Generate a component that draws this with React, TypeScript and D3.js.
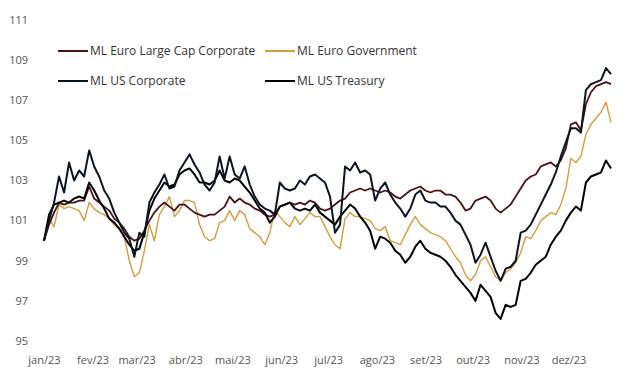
import React from "react";
import * as d3 from "d3";

const W = 622;
const H = 369;

const yTicks = [95, 97, 99, 101, 103, 105, 107, 109, 111];
const monthLabels = ["jan/23", "fev/23", "mar/23", "abr/23", "mai/23", "jun/23", "jul/23", "ago/23", "set/23", "out/23", "nov/23", "dez/23"];
const monthStarts = ["2023-01-01", "2023-02-01", "2023-03-01", "2023-04-01", "2023-05-01", "2023-06-01", "2023-07-01", "2023-08-01", "2023-09-01", "2023-10-01", "2023-11-01", "2023-12-01"];
const firstDate = "2023-01-02";
const lastDate = "2023-12-29";

const euroCorp = [100.0, 100.8, 101.4, 101.9, 101.8, 101.9, 101.9, 102.0, 102.0, 102.7, 102.1, 101.9, 101.7, 101.5, 101.1, 100.9, 100.6, 100.2, 100.0, 100.1, 100.5, 101.0, 101.4, 101.7, 101.9, 101.7, 101.5, 101.8, 101.8, 101.6, 101.4, 101.3, 101.2, 101.3, 101.3, 101.5, 101.7, 102.2, 101.9, 102.1, 101.9, 101.8, 101.6, 101.5, 101.3, 101.2, 101.3, 101.7, 101.8, 101.9, 101.8, 101.9, 101.8, 102.0, 101.9, 101.6, 101.5, 101.6, 101.8, 102.0, 102.1, 102.4, 102.5, 102.6, 102.5, 102.6, 102.5, 102.4, 102.5, 102.4, 102.2, 102.1, 102.3, 102.5, 102.6, 102.7, 102.5, 102.4, 102.5, 102.5, 102.3, 102.3, 102.2, 101.9, 101.5, 101.6, 102.0, 102.1, 102.2, 102.0, 101.6, 101.4, 101.6, 101.8, 102.2, 102.6, 103.0, 103.2, 103.3, 103.7, 103.8, 103.9, 103.7, 104.0, 104.6, 105.8, 105.9, 105.5, 106.8, 107.4, 107.7, 107.8, 107.9, 107.8];
const euroGov = [100.0, 101.1, 100.7, 101.8, 101.6, 101.7, 101.6, 101.5, 101.0, 101.9, 101.6, 101.4, 101.3, 101.1, 100.8, 100.6, 100.2, 99.0, 98.2, 98.4, 99.5, 100.8, 100.0, 101.3, 101.7, 102.2, 101.2, 101.5, 102.0, 102.0, 101.9, 100.8, 100.2, 100.0, 100.1, 100.9, 101.0, 101.5, 101.0, 101.5, 101.3, 100.6, 100.4, 100.2, 99.8, 100.4, 101.5, 101.2, 100.9, 100.7, 101.2, 100.8, 101.1, 101.4, 101.2, 101.2, 100.7, 100.2, 99.8, 99.6, 101.1, 101.4, 101.2, 101.2, 101.1, 101.0, 100.6, 100.5, 100.7, 100.0, 99.9, 99.8, 100.3, 100.8, 101.2, 100.8, 100.6, 100.4, 100.3, 100.2, 100.0, 99.6, 99.2, 98.9, 98.3, 98.0, 98.3, 99.0, 99.2, 98.7, 98.2, 98.0, 98.4, 98.6, 98.9, 99.4, 100.2, 100.1, 100.5, 101.0, 101.2, 101.4, 101.3, 101.8, 102.6, 104.1, 103.9, 104.2, 105.3, 105.8, 106.1, 106.4, 106.9, 105.9];
const usCorp = [100.0, 101.0, 101.9, 103.2, 102.4, 103.9, 103.0, 103.5, 103.2, 104.5, 103.7, 103.2, 102.5, 102.1, 101.4, 100.9, 100.4, 100.1, 99.2, 100.4, 100.2, 101.9, 102.4, 102.8, 103.3, 102.6, 102.7, 103.5, 103.9, 104.3, 103.8, 103.4, 102.8, 102.5, 102.9, 104.2, 103.1, 104.2, 103.3, 103.1, 103.7, 102.8, 102.2, 101.8, 101.6, 101.5, 101.3, 102.9, 102.6, 102.5, 102.6, 103.0, 102.8, 103.2, 103.3, 103.1, 102.9, 102.2, 100.4, 100.8, 103.7, 103.5, 103.9, 103.4, 103.5, 103.3, 102.0, 102.6, 102.9, 102.3, 101.9, 101.6, 101.2, 101.6, 102.3, 102.5, 102.0, 101.9, 101.9, 101.7, 101.7, 101.4, 101.0, 100.8, 100.3, 99.8, 98.9, 99.3, 99.9, 99.2, 98.5, 98.0, 98.6, 98.7, 99.0, 100.4, 100.5, 100.8, 101.3, 101.8, 102.3, 102.8, 103.4, 104.2, 104.9, 105.6, 105.6, 105.4, 107.5, 107.8, 107.9, 108.0, 108.6, 108.3];
const usTreasury = [100.0, 101.3, 101.8, 101.9, 102.0, 101.9, 102.1, 102.2, 102.1, 102.9, 102.5, 102.0, 101.6, 101.1, 100.9, 100.6, 100.2, 99.8, 99.5, 99.6, 100.4, 101.5, 102.1, 102.5, 102.9, 102.7, 102.8, 103.3, 103.5, 103.6, 103.3, 102.9, 102.9, 102.8, 103.0, 103.5, 103.0, 102.9, 103.1, 103.0, 102.7, 102.4, 102.0, 101.6, 101.4, 100.9, 101.2, 101.7, 101.8, 101.9, 101.6, 101.5, 101.6, 101.5, 101.8, 101.4, 101.2, 101.0, 100.8, 101.2, 101.5, 101.8, 101.6, 101.2, 100.9, 100.5, 99.6, 100.2, 100.1, 99.9, 99.5, 99.3, 98.9, 99.2, 99.7, 100.0, 99.6, 99.4, 99.3, 99.2, 99.0, 98.7, 98.3, 98.0, 97.7, 97.4, 97.0, 97.8, 97.5, 97.2, 96.4, 96.1, 96.8, 96.7, 96.8, 98.0, 98.1, 98.4, 98.8, 99.0, 99.2, 99.8, 100.2, 100.5, 101.0, 101.4, 101.7, 101.5, 102.9, 103.2, 103.3, 103.4, 104.0, 103.6];

const seriesNames = ["ML Euro Large Cap Corporate", "ML Euro Government", "ML US Corporate", "ML US Treasury"];
const seriesValues = [euroCorp, euroGov, usCorp, usTreasury];
const seriesColors = ["#4a1414", "#d39d3e", "#0b1422", "#000000"];
const seriesWidths = [1.8, 1.4, 2.0, 2.0];
const drawOrder = [1, 0, 3, 2];

const FONT = "'Open Sans', 'Noto Sans', sans-serif";

export default function App() {
  const parse = d3.timeParse("%Y-%m-%d");
  const xLeft = 44;
  const xRight = 611;
  const xIdx = d3.scaleLinear().domain([0, euroCorp.length - 1]).range([xLeft, xRight]);
  const xTime = d3.scaleTime().domain([parse(firstDate)!, parse(lastDate)!]).range([xLeft, xRight]);
  const y = d3.scaleLinear().domain([95, 111]).range([341, 20]);

  const line = d3
    .line<number>()
    .x((_, i) => xIdx(i))
    .y((v) => y(v));

  const legendItems = [
    { s: 0, lx: 58, ly: 51 },
    { s: 1, lx: 265, ly: 51 },
    { s: 2, lx: 58, ly: 81 },
    { s: 3, lx: 265, ly: 81 },
  ];

  return (
    <svg
      width={W}
      height={H}
      style={{ position: "absolute", left: 0, top: 0, background: "#fff" }}
      fontFamily={FONT}
    >
      <rect x={0} y={0} width={W} height={H} fill="#fff" />
      {yTicks.map((t) => (
        <text key={t} x={28} y={y(t)} dy="0.35em" textAnchor="end" fontSize={11} fill="#555">
          {t}
        </text>
      ))}
      {monthLabels.map((m, i) => (
        <text
          key={m}
          x={xTime(parse(monthStarts[i])!) + 2}
          y={360}
          dy="0.35em"
          textAnchor="middle"
          fontSize={11}
          fill="#555"
        >
          {m}
        </text>
      ))}
      {drawOrder.map((s) => (
        <path
          key={s}
          d={line(seriesValues[s]) || ""}
          fill="none"
          stroke={seriesColors[s]}
          strokeWidth={seriesWidths[s]}
          strokeLinejoin="round"
        />
      ))}
      {legendItems.map(({ s, lx, ly }) => (
        <g key={s}>
          <line x1={lx} x2={lx + 30} y1={ly} y2={ly} stroke={seriesColors[s]} strokeWidth={2} />
          <text x={lx + 32} y={ly} dy="0.35em" fontSize={12} fill="#333">
            {seriesNames[s]}
          </text>
        </g>
      ))}
    </svg>
  );
}
